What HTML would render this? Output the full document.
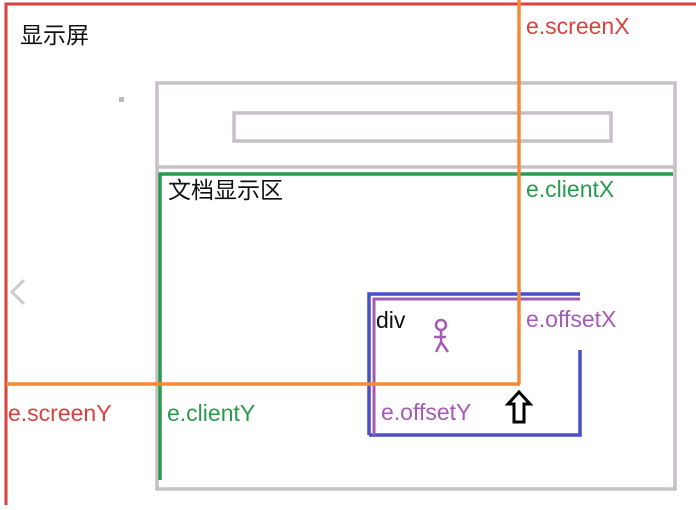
<!DOCTYPE html>
<html><head><meta charset="utf-8"><style>
body{margin:0;width:696px;height:505px;overflow:hidden;background:#fff}
svg text{font-family:"Liberation Sans","Noto Sans CJK SC",sans-serif;font-size:23px}
</style></head><body>
<svg width="696" height="505" xmlns="http://www.w3.org/2000/svg">
<rect x="0" y="0" width="696" height="505" fill="#fff"/>
<polyline points="6,505 6,4 696,4" fill="none" stroke="#d9413e" stroke-width="3"/>
<rect x="157" y="83" width="518" height="406" fill="none" stroke="#c6c0c8" stroke-width="3.5"/>
<line x1="157" y1="167" x2="675" y2="167" stroke="#c6c0c8" stroke-width="3.5"/>
<rect x="234" y="113" width="377" height="28" fill="none" stroke="#c6c0c8" stroke-width="3.5"/>
<rect x="119" y="97" width="5" height="5" fill="#bbb"/>
<polyline points="160,480 160,174 673,174" fill="none" stroke="#2b9a4f" stroke-width="3.5"/>
<polyline points="369,435 369,294 580,294" fill="none" stroke="#4a4fc7" stroke-width="3.5"/>
<polyline points="580,350 580,435 369,435" fill="none" stroke="#4a4fc7" stroke-width="3.5"/>
<polyline points="374,435 374,299 580,299" fill="none" stroke="#a55bb5" stroke-width="3"/>
<line x1="519" y1="0" x2="519" y2="384" stroke="#f58a35" stroke-width="3.5"/>
<line x1="6" y1="384" x2="520" y2="384" stroke="#f58a35" stroke-width="3.5"/>
<path d="M519,392 L530,404 L524,404 L524,422 L514,422 L514,404 L508,404 Z" fill="#fff" stroke="#000" stroke-width="3"/>
<path d="M24,280 L12,292 L24,304" fill="none" stroke="#ccc" stroke-width="3"/>
<g fill="none" stroke="#a55bb5" stroke-width="2.5">
<circle cx="441" cy="325" r="5"/><path d="M441,330 L441,342 L448,352 M434,337 L446,337 M441,342 L436,352"/>
</g>
<text x="20" y="43" fill="#111">显示屏</text>
<text x="168" y="198" fill="#111">文档显示区</text>
<text x="526" y="34" fill="#d9413e">e.screenX</text>
<text x="526" y="197" fill="#2b9a4f">e.clientX</text>
<text x="376" y="328" fill="#111">div</text>
<text x="526" y="327" fill="#a55bb5">e.offsetX</text>
<text x="8" y="421" fill="#d9413e">e.screenY</text>
<text x="167" y="421" fill="#2b9a4f">e.clientY</text>
<text x="381" y="420" fill="#a55bb5">e.offsetY</text>
</svg>
</body></html>
